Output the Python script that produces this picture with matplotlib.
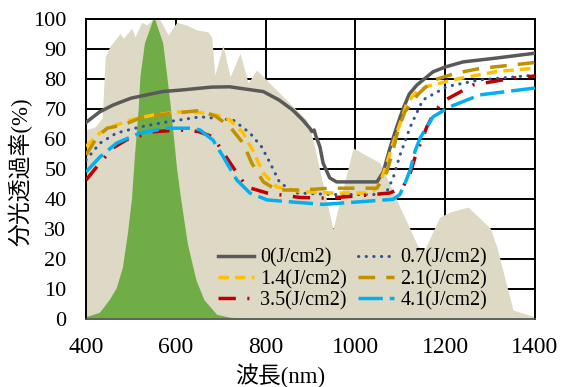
import matplotlib
matplotlib.use("Agg")
import matplotlib.pyplot as plt

# 太陽光スペクトル (相対値)
sun_x = [400, 420, 436, 443, 453, 476, 483, 502, 509, 524, 535, 549, 565, 583, 602,
         624, 647, 671, 680, 687, 705, 721, 743, 761, 780, 817, 854, 892, 905, 950,
         995, 1055, 1100, 1140, 1155, 1188, 1211, 1251, 1300, 1315, 1351, 1400]
sun_y = [63, 64, 67, 87.4, 90.8, 95.2, 93.6, 96.9, 94.1, 98.9, 98, 100, 99.7, 94.7, 98.9,
         98, 96.3, 95.8, 94, 81.3, 91.3, 80.8, 88.6, 78.7, 83, 77.4, 71.9, 66.3, 60, 30,
         57, 52, 37, 24, 23.5, 34, 35.7, 37.3, 30.3, 24, 3, 0.7]

# 視感度 (緑)
eye_x = [400, 431, 453, 469, 483, 494, 503, 510, 518, 522, 532, 551, 569, 578, 585,
         592, 600, 609, 624, 643, 661, 690, 721, 760, 1400]
eye_y = [0.5, 2, 6.3, 10.3, 17.3, 28.6, 40, 55, 70, 81, 92, 100, 92, 81, 72,
         62, 50, 40, 25, 13, 6.3, 1.3, 0.3, 0, 0]

# 分光透過率
x_00 = [400, 430, 460, 500, 535, 570, 610, 680, 720, 795, 830, 860, 883, 899, 903, 908,
        912, 921, 928, 943, 958, 1048, 1062, 1077, 1092, 1106, 1120, 1137, 1173, 1200,
        1240, 1315, 1400]
y_00 = [65.5, 69, 71.3, 73.6, 74.7, 75.8, 76.3, 77.3, 77.4, 75.8, 73, 69.7, 66.3, 63.5, 62.5, 63,
        61, 57.4, 52, 47, 45.7, 45.7, 49, 57, 64, 70, 75, 78, 82.4, 84,
        85.7, 87, 88.6]

x_07 = [400, 431, 468, 520, 580, 638, 654, 728, 765, 791, 810, 832, 870, 950, 1050, 1070,
        1084, 1099, 1110, 1122, 1150, 1204, 1277, 1400]
y_07 = [53, 58.6, 62, 64, 65.7, 67, 67.4, 66.3, 62, 57.4, 52, 45.3, 42, 41.5, 41.5, 42.5,
        47, 54.5, 59, 64, 73, 77.5, 79.7, 81.3]

x_14 = [400, 431, 465, 498, 549, 609, 654, 690, 721, 750, 772, 795, 825, 877, 950, 1020,
        1039, 1055, 1070, 1084, 1099, 1115, 1135, 1159, 1226, 1315, 1400]
y_14 = [57.5, 62, 64.5, 66.3, 68, 69, 68.8, 68, 66.3, 62, 56, 48.6, 44, 42.5, 42, 42,
        42.5, 45.3, 52, 58.6, 65, 72, 75.5, 77.5, 80, 82.5, 83.6]

x_21 = [400, 425, 447, 483, 527, 595, 654, 690, 721, 750, 769, 795, 825, 880, 943, 1003,
        1048, 1070, 1084, 1095, 1110, 1140, 1173, 1226, 1277, 1382, 1400]
y_21 = [54.7, 60.7, 63.6, 64.7, 67.4, 68.6, 69.5, 67.5, 64, 58.6, 52, 45.7, 43, 43, 43.6, 43.6,
        43.6, 49, 56.3, 63, 69, 75, 79.6, 82, 83.5, 85.2, 85.5]

x_35 = [400, 431, 460, 490, 549, 609, 650, 683, 721, 758, 803, 877, 936, 1003, 1077, 1106,
        1122, 1133, 1148, 1159, 1175, 1193, 1262, 1351, 1400]
y_35 = [46.3, 52, 57, 59.7, 62.4, 63, 62.5, 60.7, 52, 44, 42, 40.5, 40.3, 41, 42, 44,
        48.6, 54, 59.7, 64, 68.5, 72.4, 78, 80.3, 81]

x_41 = [400, 431, 468, 520, 580, 638, 654, 683, 706, 736, 765, 803, 877, 928, 1003, 1084,
        1099, 1110, 1122, 1133, 1144, 1173, 1210, 1277, 1400]
y_41 = [49, 54, 58.6, 62, 63.6, 63.6, 63, 59.6, 54, 46.3, 42, 39.7, 38.8, 38.2, 39, 39.9,
        41.5, 45, 49.7, 56, 60.3, 67.4, 70.7, 74.7, 77]

labels = ["0(J/cm2)", "0.7(J/cm2)", "1.4(J/cm2)", "2.1(J/cm2)", "3.5(J/cm2)", "4.1(J/cm2)"]

serif = ["Liberation Serif", "DejaVu Serif"]
jp = ["Liberation Serif", "Noto Sans CJK JP"]

fig = plt.figure(figsize=(5.61, 3.87), dpi=100)
ax = fig.add_axes([86 / 561, 68 / 387, 449 / 561, 300 / 387])

ax.fill_between(sun_x, 0, sun_y, color="#DDD9C4", lw=0, zorder=1)
ax.fill_between(eye_x, 0, eye_y, facecolor="#70AD47", edgecolor="#70AD47", lw=1.2, zorder=1.1)

lw = 2.2
ax.plot(x_00, y_00, color="#595959", lw=lw + 0.3, ls="-", label=labels[0], zorder=3)
ax.plot(x_07, y_07, color="#2F5597", lw=lw, ls=(0, (0.1, 2.4)), dash_capstyle="round",
        label=labels[1], zorder=3)
ax.plot(x_14, y_14, color="#FFC000", lw=lw + 0.3, ls=(0, (3, 1.8)), label=labels[2], zorder=3)
ax.plot(x_21, y_21, color="#BF9000", lw=lw + 0.3, ls=(0, (4.8, 3.2)), label=labels[3], zorder=3)
ax.plot(x_35, y_35, color="#C00000", lw=lw + 0.3, ls=(0, (5, 3.3, 0.6, 3.3)), label=labels[4], zorder=3)
ax.plot(x_41, y_41, color="#00B0F0", lw=lw + 0.3, ls=(0, (7, 2)), label=labels[5], zorder=3)

ax.set_xlim(400, 1400)
ax.set_ylim(0, 100)
ax.set_xticks(range(400, 1401, 200))
ax.set_yticks(range(0, 101, 10))
ax.set_axisbelow(True)
ax.grid(True, color="black", lw=1.4)
ax.tick_params(length=0)
ax.tick_params(axis="x", pad=13)
ax.tick_params(axis="y", pad=14)
for t in ax.get_xticklabels():
    t.set_family(serif)
    t.set_fontsize(17)
for t in ax.get_yticklabels():
    t.set_family(serif)
    t.set_fontsize(16)

for s in ("left", "top", "right"):
    ax.spines[s].set_color("black")
    ax.spines[s].set_linewidth(1.4)
ax.spines["bottom"].set_color("#595959")
ax.spines["bottom"].set_linewidth(1.2)

ax.set_ylabel("分光透過率(%)", family=jp, fontsize=16.5)
ax.yaxis.set_label_coords(-0.12, 0.49)
ax.set_xlabel("波長(nm)", family=jp, fontsize=16.5)
ax.xaxis.set_label_coords(0.432, -0.15)

# 凡例: 行順を 0,0.7 / 1.4,2.1 / 3.5,4.1 にする
h, l = ax.get_legend_handles_labels()
order = [0, 2, 4, 1, 3, 5]
ax.legend([h[i] for i in order], [l[i] for i in order], ncol=2, frameon=False,
          loc="upper left", bbox_to_anchor=(0.294, 0.235), borderpad=0, borderaxespad=0,
          prop={"family": serif, "size": 14.5}, handlelength=1.8, handletextpad=0.3,
          columnspacing=0.55, labelspacing=0.1)

fig.savefig("out.png", dpi=100)
